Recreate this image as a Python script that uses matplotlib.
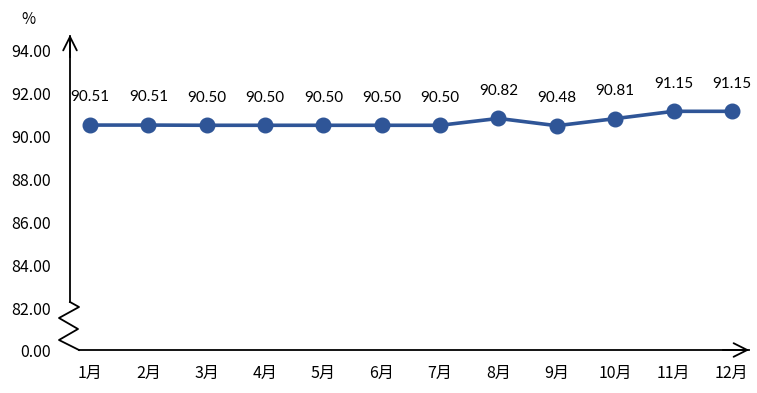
import matplotlib.pyplot as plt
from matplotlib.lines import Line2D

months = ['1月', '2月', '3月', '4月', '5月', '6月', '7月', '8月', '9月', '10月', '11月', '12月']
values = [90.51, 90.51, 90.50, 90.50, 90.50, 90.50, 90.50, 90.82, 90.48, 90.81, 91.15, 91.15]
ytick_pos = [80, 82, 84, 86, 88, 90, 92, 94]
ytick_labels = ['0.00', '82.00', '84.00', '86.00', '88.00', '90.00', '92.00', '94.00']

plt.rcParams['font.family'] = ['Noto Sans CJK SC', 'DejaVu Sans']

W, H = 757, 393
fig = plt.figure(figsize=(W / 100, H / 100), dpi=100)
# axes box in pixels: left 70, right 750, top 35, bottom 351
ax = fig.add_axes([70 / W, 1 - 351 / H, 680 / W, 316 / H])
ax.set_xlim(-0.343, 11.31)
ax.set_ylim(80, 94.70)
for s in ax.spines.values():
    s.set_visible(False)

x = list(range(len(months)))
ax.plot(x, values, color='#2F5597', lw=2.6, marker='o', ms=10.5, zorder=3)
for xi, v in zip(x, values):
    ax.annotate(f'{v:.2f}', (xi, v), xytext=(0, 20), textcoords='offset points',
                ha='center', va='center', fontsize=11, family=['Lato', 'DejaVu Sans'])

ax.set_xticks(x)
ax.set_xticklabels(months, fontsize=11.5)
ax.set_yticks(ytick_pos)
ax.set_yticklabels(ytick_labels, fontsize=11.5)
ax.tick_params(length=0)
ax.tick_params(axis='x', pad=10)
ax.tick_params(axis='y', pad=14)


def px(xp, yp):
    return (xp / W, 1 - yp / H)


# y axis with arrow and break zigzag
pts = [(70, 302), (79, 307), (59, 318), (78, 329), (59, 340), (79, 350)]
fig.add_artist(Line2D([p[0] / W for p in pts], [1 - p[1] / H for p in pts],
                      color='black', lw=1.3))
fig.add_artist(Line2D([70 / W, 70 / W], [1 - 302 / H, 1 - 36 / H], color='black', lw=1.3))
fig.add_artist(Line2D([79 / W, 749 / W], [1 - 350 / H, 1 - 350 / H], color='black', lw=1.3))
ax.annotate('', xy=px(70, 32), xytext=px(70, 60), xycoords='figure fraction',
            arrowprops=dict(arrowstyle='->,head_length=0.7,head_width=0.35', color='black',
                            lw=1.3, mutation_scale=14))
ax.annotate('', xy=px(752, 350), xytext=px(720, 350), xycoords='figure fraction',
            arrowprops=dict(arrowstyle='->,head_length=0.7,head_width=0.35', color='black',
                            lw=1.3, mutation_scale=14))

fig.text(28 / W, 1 - 20 / H, '%', ha='center', va='center', fontsize=11)

fig.savefig('out.png', dpi=100)
